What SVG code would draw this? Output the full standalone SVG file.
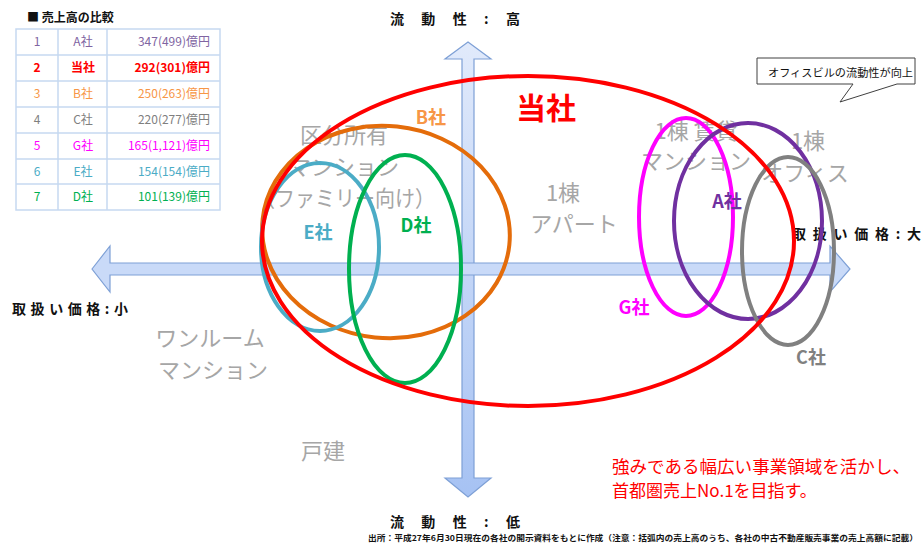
<svg xmlns="http://www.w3.org/2000/svg" width="921" height="544" viewBox="0 0 921 544">
<style>
text{font-family:"Noto Sans CJK JP","Liberation Sans",sans-serif;}
.ax{font-weight:bold;font-size:14px;fill:#111;}
.gl{font-size:22px;fill:#a6a6a6;}
.lb{font-weight:bold;font-size:18px;}
.ov{fill:none;stroke-width:4;}
.tc{font-size:12px;text-anchor:middle;}
.tr{font-size:12px;text-anchor:end;}
.grid{stroke:#c6d9f1;stroke-width:1.5;fill:none;}
</style>
<defs>
<linearGradient id="vg" x1="0" y1="0" x2="0" y2="1">
<stop offset="0" stop-color="#e1eafb"/>
<stop offset="1" stop-color="#a6c2f3"/>
</linearGradient>
</defs>
<rect width="921" height="544" fill="#fff"/>

<g id="connectors">
<polygon points="468,42 491,59 474,59 474,478 491,478 468,497 445,478 462,478 462,59 445,59" fill="url(#vg)" stroke="#7ea0d6" stroke-width="1.2"/>
<polygon points="92,269 110,246 110,263 830,263 830,246 850,269 830,292 830,275 110,275 110,292" fill="#c9daf8" stroke="#7ea0d6" stroke-width="1.2"/>
</g>

<g id="axis-labels">
<text class="ax" x="390" y="24" textLength="130" lengthAdjust="spacing">流 動 性 : 高</text>
<text class="ax" x="390" y="527" textLength="130" lengthAdjust="spacing">流 動 性 : 低</text>
<text class="ax" x="12" y="314" textLength="116" lengthAdjust="spacing">取扱い価格:小</text>
<text class="ax" x="792" y="239" textLength="129" lengthAdjust="spacing">取扱い価格:大</text>
</g>

<g id="categories">
<text class="gl" x="344" y="143" text-anchor="middle">区分所有</text>
<text class="gl" x="344" y="175" text-anchor="middle">マンション</text>
<text class="gl" x="345" y="206" text-anchor="middle" textLength="180" lengthAdjust="spacingAndGlyphs">（ファミリー向け）</text>
<text class="gl" x="563" y="201" text-anchor="middle">1棟</text>
<text class="gl" x="574" y="232" text-anchor="middle">アパート</text>
<text class="gl" x="696" y="139" text-anchor="middle">1棟 賃貸</text>
<text class="gl" x="696" y="169" text-anchor="middle">マンション</text>
<text class="gl" x="808" y="149" text-anchor="middle">1棟</text>
<text class="gl" x="805" y="181" text-anchor="middle">オフィス</text>
<text class="gl" x="210" y="346" text-anchor="middle">ワンルーム</text>
<text class="gl" x="213" y="378" text-anchor="middle">マンション</text>
<text class="gl" x="323" y="459" text-anchor="middle">戸建</text>
</g>

<g id="node-b">
<ellipse class="ov" cx="386" cy="232" rx="124" ry="106" transform="rotate(6 386 232)" stroke="#e46c0a"/>
<text class="lb" x="431" y="124" text-anchor="middle" fill="#f79646">B社</text>
</g>
<g id="node-e">
<ellipse class="ov" cx="320" cy="247" rx="59" ry="84" stroke="#4bacc6"/>
<text class="lb" x="318" y="239" text-anchor="middle" fill="#4bacc6">E社</text>
</g>
<g id="node-d">
<ellipse class="ov" cx="405" cy="269" rx="56" ry="114" stroke="#00b050"/>
<text class="lb" x="416" y="232" text-anchor="middle" fill="#00b050">D社</text>
</g>
<g id="node-g">
<ellipse class="ov" cx="686" cy="217" rx="47" ry="99" stroke="#ff00ff"/>
<text class="lb" x="634" y="314" text-anchor="middle" fill="#ff00ff">G社</text>
</g>
<g id="node-a">
<ellipse class="ov" cx="748" cy="221" rx="74" ry="98" stroke="#7030a0"/>
<text class="lb" x="727" y="208" text-anchor="middle" fill="#7030a0">A社</text>
</g>
<g id="node-c">
<ellipse class="ov" cx="788" cy="251" rx="46" ry="94" stroke="#808080"/>
<text class="lb" x="811" y="364" text-anchor="middle" fill="#808080">C社</text>
</g>
<g id="node-self">
<ellipse class="ov" cx="528" cy="241" rx="266" ry="165" stroke="#ff0000"/>
<text x="546" y="119" text-anchor="middle" font-weight="bold" font-size="30" fill="#ff0000">当社</text>
</g>

<g id="callout">
<path d="M757,58 H915 V84 H897 L840,102 L853,84 H757 Z" fill="#fff" stroke="#404040" stroke-width="1"/>
<text x="768" y="77" font-size="11" fill="#111" textLength="145" lengthAdjust="spacingAndGlyphs">オフィスビルの流動性が向上</text>
</g>

<g id="table">
<text x="27" y="22" font-size="12" font-weight="bold" fill="#111">■ 売上高の比較</text>
<rect class="grid" x="16" y="29" width="204" height="181"/>
<path class="grid" d="M58,29V210M107,29V210M16,55H220M16,81H220M16,107H220M16,133H220M16,159H220M16,184H220"/>
<g fill="#8064a2"><text class="tc" x="37" y="46">1</text><text class="tc" x="83" y="46">A社</text><text class="tr" x="210" y="46">347(499)億円</text></g>
<g fill="#ff0000" font-weight="bold"><text class="tc" x="37" y="72" font-weight="bold">2</text><text class="tc" x="83" y="72" font-weight="bold">当社</text><text class="tr" x="210" y="72" font-weight="bold">292(301)億円</text></g>
<g fill="#f79646"><text class="tc" x="37" y="98">3</text><text class="tc" x="83" y="98">B社</text><text class="tr" x="210" y="98">250(263)億円</text></g>
<g fill="#7f7f7f"><text class="tc" x="37" y="124">4</text><text class="tc" x="83" y="124">C社</text><text class="tr" x="210" y="124">220(277)億円</text></g>
<g fill="#ff00ff"><text class="tc" x="37" y="150">5</text><text class="tc" x="83" y="150">G社</text><text class="tr" x="210" y="150">165(1,121)億円</text></g>
<g fill="#4bacc6"><text class="tc" x="37" y="176">6</text><text class="tc" x="83" y="176">E社</text><text class="tr" x="210" y="176">154(154)億円</text></g>
<g fill="#00b050"><text class="tc" x="37" y="201">7</text><text class="tc" x="83" y="201">D社</text><text class="tr" x="210" y="201">101(139)億円</text></g>
</g>

<g id="message">
<text x="612" y="473" font-size="17" fill="#ff0000" textLength="298" lengthAdjust="spacingAndGlyphs">強みである幅広い事業領域を活かし、</text>
<text x="612" y="497" font-size="17" fill="#ff0000">首都圏売上No.1を目指す。</text>
</g>

<text x="368" y="541" font-size="8" font-weight="bold" fill="#111" textLength="550" lengthAdjust="spacingAndGlyphs">出所：平成27年6月30日現在の各社の開示資料をもとに作成（注意：括弧内の売上高のうち、各社の中古不動産販売事業の売上高額に記載）</text>
</svg>
